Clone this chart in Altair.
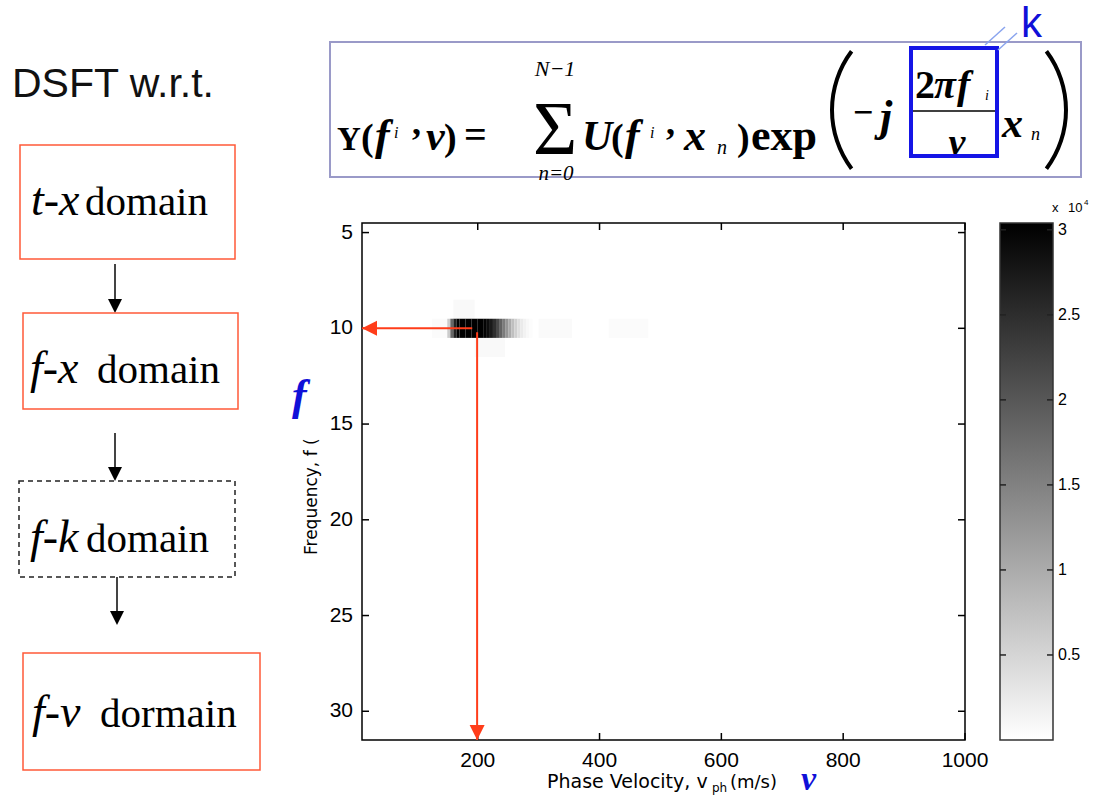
import altair as alt
import pandas as pd

# ---------------- data ----------------
y_ticks = [5, 10, 15, 20, 25, 30]
y_labels = ["5", "10", "15", "20", "25", "30"]
x_ticks = [200, 400, 600, 800, 1000]
x_labels = ["200", "400", "600", "800", "1000"]
cb_ticks = [0.5, 1, 1.5, 2, 2.5, 3]
cb_labels = ["0.5", "1", "1.5", "2", "2.5", "3"]

# main streak at f = 10 Hz: cell edges (m/s) and intensity (x 10^4)
streak_edges = [150, 155, 160, 165, 170, 180, 190, 200, 210, 215, 220, 225, 230, 235,
                240, 245, 250, 255, 260, 265, 270, 275, 280, 285, 290]
streak_vals = [0.6, 1.8, 2.6, 3.0, 3.0, 3.0, 3.0, 3.0, 2.95, 2.85, 2.7, 2.45, 2.15,
               1.85, 1.55, 1.25, 1.0, 0.75, 0.55, 0.38, 0.25, 0.15, 0.08, 0.04]

# faint side patches
faint_freq = [10, 9, 11, 10, 10]
faint_v0 = [125, 160, 195, 300, 415]
faint_v1 = [150, 195, 245, 355, 480]
faint_val = [0.05, 0.07, 0.07, 0.06, 0.05]

h_arrow_v = [191, 10]
h_arrow_f = [10, 10]
v_arrow_v = [199, 199]
v_arrow_f = [10.2, 31.5]

cb_lo = [0]
cb_hi = [3.04]

# ---------------- layout ----------------
W, H = 603, 517
OX, OY = 362, 223
ORANGE = "#ff5a38"
RED = "#ff3d1a"
BLUE = "#1010d8"

one = pd.DataFrame({"o": [0]})


def T(s, px, py, size, font="Liberation Serif", weight="normal", style="normal",
      color="black", align="left", angle=0, baseline="alphabetic"):
    return alt.Chart(one).mark_text(
        text=s, font=font, fontSize=size, fontWeight=weight, fontStyle=style,
        color=color, align=align, baseline=baseline, angle=angle
    ).encode(x=alt.value(px - OX), y=alt.value(py - OY))


def BOX(x0, y0, x1, y1, color, width=1.5, dash=None):
    kw = dict(filled=False, color=color, strokeWidth=width)
    if dash:
        kw["strokeDash"] = dash
    return alt.Chart(one).mark_rect(**kw).encode(
        x=alt.value(x0 - OX), x2=alt.value(x1 - OX),
        y=alt.value(y0 - OY), y2=alt.value(y1 - OY))


def HLINE(x0, x1, y, color, width=1.5):
    return alt.Chart(one).mark_rule(color=color, strokeWidth=width).encode(
        x=alt.value(x0 - OX), x2=alt.value(x1 - OX), y=alt.value(y - OY))


def SEG(x0, y0, x1, y1, color, width=1.5):
    return alt.Chart(one).mark_rule(color=color, strokeWidth=width).encode(
        x=alt.value(x0 - OX), x2=alt.value(x1 - OX),
        y=alt.value(y0 - OY), y2=alt.value(y1 - OY))


def PAREN(cx, cy, t1, t2, r=100, thick=4):
    return alt.Chart(one).mark_arc(
        theta=t1, theta2=t2, radius=r, radius2=r - thick, color="black"
    ).encode(x=alt.value(cx - OX), y=alt.value(cy - OY))


def DOWN_ARROW(x, y0, ytip):
    line = alt.Chart(one).mark_rule(color="#444444", strokeWidth=2).encode(
        x=alt.value(x - OX), y=alt.value(y0 - OY), y2=alt.value(ytip - 10 - OY))
    head = alt.Chart(one).mark_point(
        shape="M0,0L-1,-2L1,-2Z", size=196, filled=True, color="black", opacity=1
    ).encode(x=alt.value(x - OX), y=alt.value(ytip - OY))
    return [line, head]


# ---------------- heat map ----------------
streak = pd.DataFrame({
    "freq": [10] * len(streak_vals),
    "v0": streak_edges[:-1], "v1": streak_edges[1:], "val": streak_vals})
faint = pd.DataFrame({"freq": faint_freq, "v0": faint_v0, "v1": faint_v1, "val": faint_val})
cells = pd.concat([faint, streak], ignore_index=True)
cells["f_lo"] = cells["freq"] - 0.5
cells["f_hi"] = cells["freq"] + 0.5

xs = alt.Scale(domain=[10, 1000], nice=False, zero=False)
ys = alt.Scale(domain=[4.5, 31.5], reverse=True, nice=False, zero=False)

rects = alt.Chart(cells).mark_rect().encode(
    x=alt.X("v0:Q", scale=xs, axis=None), x2="v1",
    y=alt.Y("f_lo:Q", scale=ys, axis=None), y2="f_hi",
    color=alt.Color("val:Q", scale=alt.Scale(domain=[0, 3], range=["#ffffff", "#000000"],
                                             interpolate="rgb"), legend=None))

ytdf = pd.DataFrame({"yt": y_ticks, "lab": y_labels})
xtdf = pd.DataFrame({"xt": x_ticks, "lab": x_labels})
tick_l = alt.Chart(ytdf).mark_rule(color="black", strokeWidth=1.5).encode(
    y=alt.Y("yt:Q", scale=ys, axis=None), x=alt.value(0), x2=alt.value(7))
tick_r = alt.Chart(ytdf).mark_rule(color="black", strokeWidth=1.5).encode(
    y=alt.Y("yt:Q", scale=ys, axis=None), x=alt.value(W - 7), x2=alt.value(W))
tick_t = alt.Chart(xtdf).mark_rule(color="black", strokeWidth=1.5).encode(
    x=alt.X("xt:Q", scale=xs, axis=None), y=alt.value(0), y2=alt.value(7))
tick_b = alt.Chart(xtdf).mark_rule(color="black", strokeWidth=1.5).encode(
    x=alt.X("xt:Q", scale=xs, axis=None), y=alt.value(H - 7), y2=alt.value(H))
lab_y = alt.Chart(ytdf).mark_text(
    font="Liberation Sans", fontSize=21, color="black", align="right", baseline="middle"
).encode(y=alt.Y("yt:Q", scale=ys, axis=None), x=alt.value(-9), text="lab:N")
lab_x = alt.Chart(xtdf).mark_text(
    font="Liberation Sans", fontSize=21, color="black", align="center", baseline="top"
).encode(x=alt.X("xt:Q", scale=xs, axis=None), y=alt.value(H + 10), text="lab:N")

hdf = pd.DataFrame({"v": h_arrow_v, "f": h_arrow_f, "o": [0, 1]})
vdf = pd.DataFrame({"v": v_arrow_v, "f": v_arrow_f, "o": [0, 1]})
h_line = alt.Chart(hdf).mark_line(color=RED, strokeWidth=2).encode(
    x=alt.X("v:Q", scale=xs, axis=None), y=alt.Y("f:Q", scale=ys, axis=None), order="o:Q")
v_line = alt.Chart(vdf).mark_line(color=RED, strokeWidth=2).encode(
    x=alt.X("v:Q", scale=xs, axis=None), y=alt.Y("f:Q", scale=ys, axis=None), order="o:Q")
h_head = alt.Chart(hdf.iloc[[1]]).mark_point(
    shape="M0,0L2,-1L2,1Z", size=225, filled=True, color=RED, opacity=1).encode(
    x=alt.X("v:Q", scale=xs, axis=None), y=alt.Y("f:Q", scale=ys, axis=None))
v_head = alt.Chart(vdf.iloc[[1]]).mark_point(
    shape="M0,0L-1,-2L1,-2Z", size=225, filled=True, color=RED, opacity=1).encode(
    x=alt.X("v:Q", scale=xs, axis=None), y=alt.Y("f:Q", scale=ys, axis=None))

heat = alt.layer(rects, tick_l, tick_r, tick_t, tick_b, lab_x, lab_y,
                 h_line, v_line, h_head, v_head)

# ---------------- colour bar ----------------
cbs = alt.Scale(domain=[0, 3.04], nice=False, zero=False)
cbdf = pd.DataFrame({"lo": cb_lo, "hi": cb_hi})
cb_rect = alt.Chart(cbdf).mark_rect(
    color=alt.Gradient(gradient="linear",
                       stops=[alt.GradientStop(color="#ffffff", offset=0),
                              alt.GradientStop(color="#000000", offset=1)],
                       x1=0, x2=0, y1=1, y2=0),
    stroke="#333333", strokeWidth=1.5).encode(
    y=alt.Y("lo:Q", scale=cbs, axis=None), y2="hi",
    x=alt.value(1000 - OX), x2=alt.value(1053 - OX))
cbt = pd.DataFrame({"t": cb_ticks, "lab": cb_labels})
cb_tl = alt.Chart(cbt).mark_rule(color="#222222", strokeWidth=1.5).encode(
    y=alt.Y("t:Q", scale=cbs, axis=None), x=alt.value(1000 - OX), x2=alt.value(1006 - OX))
cb_tr = alt.Chart(cbt).mark_rule(color="#222222", strokeWidth=1.5).encode(
    y=alt.Y("t:Q", scale=cbs, axis=None), x=alt.value(1047 - OX), x2=alt.value(1053 - OX))
cb_lab = alt.Chart(cbt).mark_text(
    font="Liberation Sans", fontSize=16, color="black", align="left", baseline="middle"
).encode(y=alt.Y("t:Q", scale=cbs, axis=None), x=alt.value(1058 - OX), text="lab:N")
cbar = alt.layer(cb_rect, cb_tl, cb_tr, cb_lab)

# ---------------- annotations ----------------
ann = []
# left flow chart
ann.append(T("DSFT w.r.t.", 12, 97, 41, font="Liberation Sans", color="#111111"))
ann.append(BOX(20, 145, 235, 259, ORANGE))
ann.append(T("t-x", 31, 215, 46, style="italic"))
ann.append(T("domain", 85, 215, 41))
ann += DOWN_ARROW(115, 264, 313)
ann.append(BOX(23, 313, 238, 409, ORANGE))
ann.append(T("f-x", 30, 383, 46, style="italic"))
ann.append(T("domain", 97, 383, 41))
ann += DOWN_ARROW(115, 433, 481)
ann.append(BOX(19, 481, 235, 577, "#222222", dash=[5, 4]))
ann.append(T("f-k", 30, 552, 46, style="italic"))
ann.append(T("domain", 86, 552, 41))
ann += DOWN_ARROW(117, 577, 625)
ann.append(BOX(23, 653, 260, 770, ORANGE))
ann.append(T("f-v", 32, 727, 46, style="italic"))
ann.append(T("dormain", 100, 727, 41))

# formula
ann.append(BOX(330, 42, 1081, 177, "#9a9ac8", width=2))
ann.append(T("Y", 337, 150, 33, weight="bold"))
ann.append(T("(", 361, 150, 38, weight="bold"))
ann.append(T("f", 375, 150, 44, weight="bold", style="italic"))
ann.append(T("i", 394, 138, 16, style="italic"))
ann.append(T(",", 412, 134, 36, weight="bold"))
ann.append(T("ν", 426, 150, 42, weight="bold", style="italic"))
ann.append(T(")", 444, 150, 38, weight="bold"))
ann.append(T("=", 464, 148, 40, weight="bold"))
ann.append(T("Σ", 555, 154, 76, align="center"))
ann.append(T("N−1", 555, 76, 22, style="italic", align="center"))
ann.append(T("n=0", 556, 180, 21, style="italic", align="center"))
ann.append(T("U", 582, 150, 42, weight="bold", style="italic"))
ann.append(T("(", 611, 150, 38, weight="bold"))
ann.append(T("f", 625, 150, 44, weight="bold", style="italic"))
ann.append(T("i", 650, 138, 16, style="italic"))
ann.append(T(",", 666, 134, 36, weight="bold"))
ann.append(T("x", 684, 150, 44, weight="bold", style="italic"))
ann.append(T("n", 717, 154, 20, style="italic"))
ann.append(T(")", 737, 150, 38, weight="bold"))
ann.append(T("exp", 751, 150, 44, weight="bold"))
ann.append(PAREN(930, 110, 4.0689, 5.3559))
ann.append(T("−", 853, 124, 36, weight="bold"))
ann.append(T("j", 880, 131, 44, weight="bold", style="italic"))
ann.append(T("2", 915, 98, 40, weight="bold"))
ann.append(T("π", 934, 98, 40, weight="bold", style="italic"))
ann.append(T("f", 957, 98, 40, weight="bold", style="italic"))
ann.append(T("i", 985, 100, 14, style="italic"))
ann.append(HLINE(913, 995, 111, "black", 1.5))
ann.append(T("ν", 957, 155, 38, weight="bold", style="italic", align="center"))
ann.append(T("x", 1002, 137, 42, weight="bold", style="italic"))
ann.append(T("n", 1031, 140, 18, style="italic"))
ann.append(PAREN(968, 110, 0.9273, 2.2143))
ann.append(BOX(911, 48, 997, 156, "#1515e6", width=4))
ann.append(SEG(985, 45, 1005, 27, "#8aa4ee", 1.5))
ann.append(SEG(998, 50, 1017, 33, "#8aa4ee", 1.5))
ann.append(T("k", 1021, 37, 42, font="Liberation Sans", color=BLUE))

# axis titles and marks
ann.append(T("Frequency, f (", 312, 555, 17, font="DejaVu Sans", angle=270, baseline="middle"))
ann.append(T("f", 292, 410, 44, weight="bold", style="italic", color=BLUE))
ann.append(T("Phase Velocity, v", 547, 788, 19, font="DejaVu Sans"))
ann.append(T("ph", 712, 792, 12, font="DejaVu Sans"))
ann.append(T("(m/s)", 730, 788, 18, font="DejaVu Sans"))
ann.append(T("ν", 801, 790, 34, weight="bold", style="italic", color=BLUE))
ann.append(T("x", 1052, 212, 13, font="Liberation Sans"))
ann.append(T("10", 1068, 212, 13, font="Liberation Sans"))
ann.append(T("4", 1084, 205, 8, font="Liberation Sans"))

chart = alt.layer(heat, cbar, *ann).resolve_scale(y="independent").properties(
    width=W, height=H,
    padding={"left": OX, "top": OY, "right": 1097 - OX - W, "bottom": 809 - OY - H},
    autosize=alt.AutoSizeParams(type="none"),
    background="white",
).configure_view(stroke="black", strokeWidth=1.5)

chart.save("out.html", embed_options={"renderer": "svg", "actions": False})
